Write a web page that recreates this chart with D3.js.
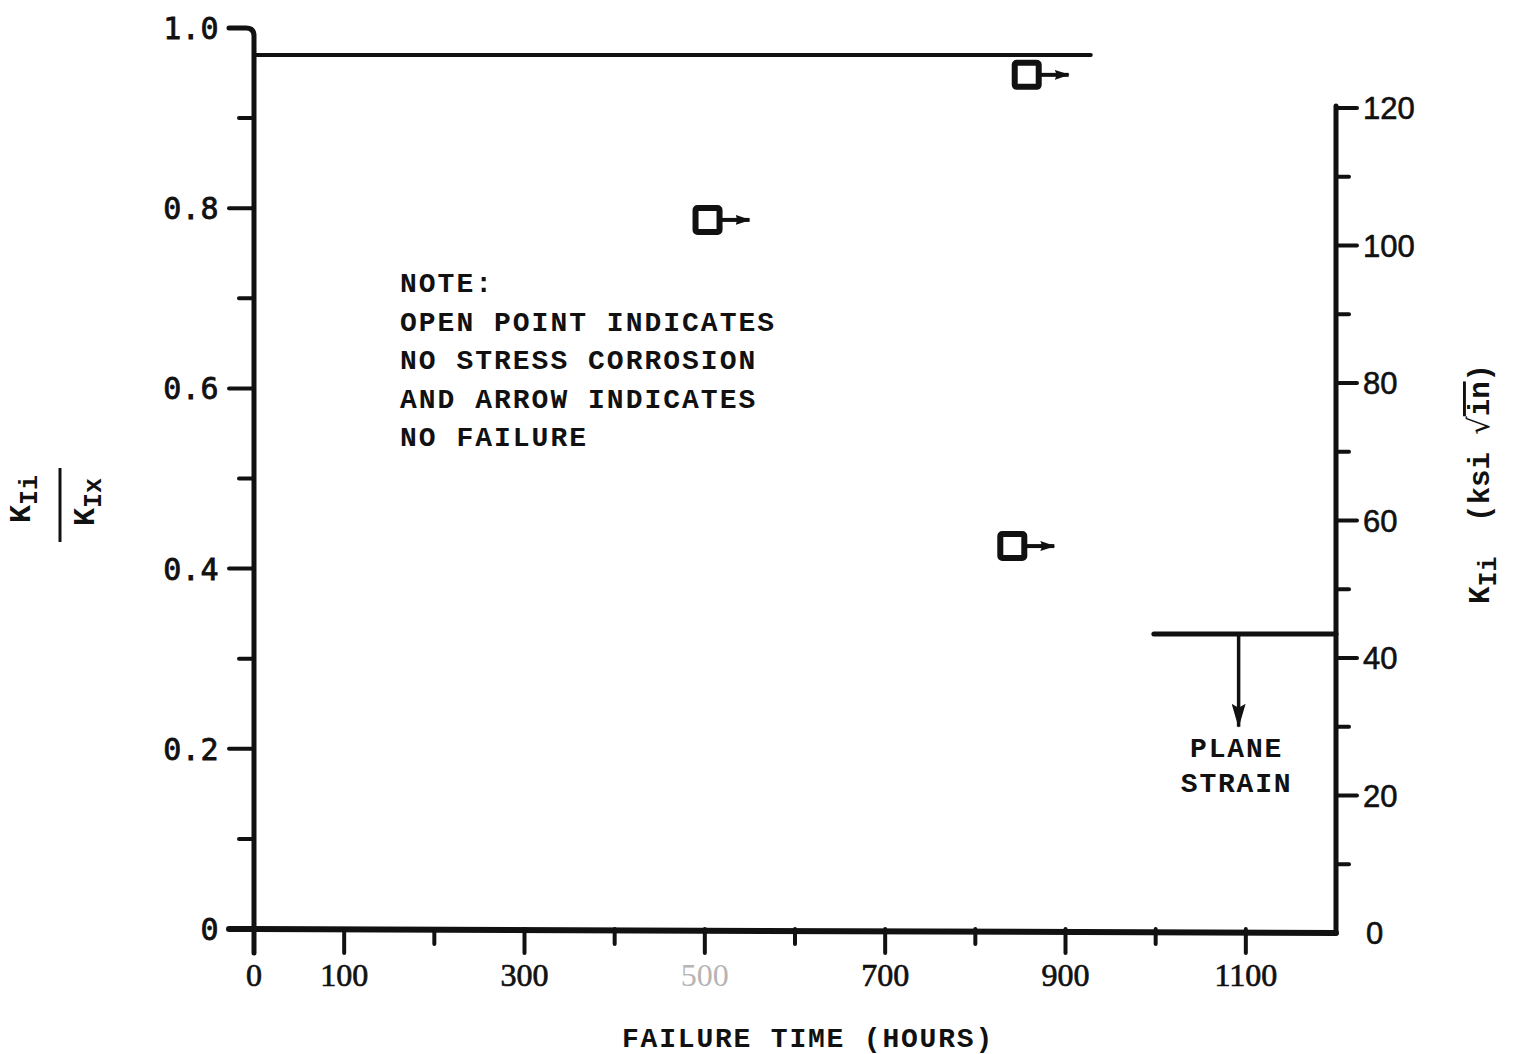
<!DOCTYPE html>
<html>
<head>
<meta charset="utf-8">
<script src="https://cdnjs.cloudflare.com/ajax/libs/d3/7.8.5/d3.min.js"></script>
<style>
  body { margin: 0; background: #fff; }
  svg { display: block; }
  .tw { font-family: "Liberation Mono", "DejaVu Sans Mono", monospace; font-weight: bold; }
</style>
</head>
<body>
<div id="chart"></div>
<script>
// hours axis
var hourTicks = [0, 100, 200, 300, 400, 500, 600, 700, 800, 900, 1000, 1100];
var hourLabels = [0, 100, 300, 500, 700, 900, 1100];
var fadedLabels = [500];

// left axis K_Ii / K_Ix
var ratioTicks = [0, 0.1, 0.2, 0.3, 0.4, 0.5, 0.6, 0.7, 0.8, 0.9, 1.0];
var ratioLabels = [0, 0.2, 0.4, 0.6, 0.8, 1.0];

// right axis K_Ii (ksi sqrt in)
var kTicks = [0, 10, 20, 30, 40, 50, 60, 70, 80, 90, 100, 110, 120];
var kLabels = [0, 20, 40, 60, 80, 100, 120];

// open points (no stress corrosion, no failure)
var pointHours = [857, 503, 841];
var pointRatio = [0.948, 0.787, 0.425];

// K_Ix level line
var kixRatio = 0.97;
var kixEndHours = 928;

// plane strain limit
var planeStrainK = 43.5;
var planeStrainFromHours = 998;
var planeStrainArrowHours = 1092;
var planeStrainArrowToK = 30;

var noteLines = ["NOTE:", "OPEN POINT INDICATES", "NO STRESS CORROSION", "AND ARROW INDICATES", "NO FAILURE"];

var W = 1523, H = 1054;
var ink = "#111";

var svg = d3.select("#chart").append("svg")
    .attr("width", W)
    .attr("height", H);

var x = d3.scaleLinear().domain([0, 1200]).range([254, 1336]);
var yL = d3.scaleLinear().domain([0, 1]).range([929, 28]);
var yR = d3.scaleLinear().domain([0, 120]).range([933, 108]);

var defs = svg.append("defs");
// small head for the "no failure" arrows, long one for plane strain
defs.append("marker")
    .attr("id", "head")
    .attr("viewBox", "0 0 15 12")
    .attr("preserveAspectRatio", "none")
    .attr("refX", 14).attr("refY", 6)
    .attr("markerWidth", 15).attr("markerHeight", 12)
    .attr("markerUnits", "userSpaceOnUse")
    .attr("orient", "auto")
    .append("path")
    .attr("d", "M0,1 L15,6 L0,11 L2,6 Z")
    .attr("fill", ink);
defs.append("marker")
    .attr("id", "headLong")
    .attr("viewBox", "0 0 24 14")
    .attr("preserveAspectRatio", "none")
    .attr("refX", 23).attr("refY", 7)
    .attr("markerWidth", 24).attr("markerHeight", 14)
    .attr("markerUnits", "userSpaceOnUse")
    .attr("orient", "auto")
    .append("path")
    .attr("d", "M0,0 L24,7 L0,14 L4,7 Z")
    .attr("fill", ink);

var axisX = x(0);

// left axis with rounded top corner (1.0 tick)
svg.append("path")
    .attr("d", "M" + (axisX - 25) + "," + yL(1) + " L" + (axisX - 8) + "," + yL(1) +
        " Q" + axisX + "," + yL(1) + " " + axisX + "," + (yL(1) + 8) +
        " L" + axisX + "," + (yL(0) + 24))
    .attr("fill", "none")
    .attr("stroke", ink)
    .attr("stroke-width", 5)
    .attr("stroke-linecap", "round");

svg.append("g").selectAll("line")
    .data(ratioTicks.filter(d => d < 1))
    .enter().append("line")
    .attr("x1", d => axisX - (ratioLabels.some(l => Math.abs(l - d) < 1e-6) ? 25 : 15))
    .attr("x2", axisX)
    .attr("y1", d => yL(d))
    .attr("y2", d => yL(d))
    .attr("stroke", ink)
    .attr("stroke-width", 4)
    .attr("stroke-linecap", "round");

svg.append("g").selectAll("text")
    .data(ratioLabels)
    .enter().append("text")
    .attr("x", axisX - 35)
    .attr("y", d => yL(d) + 11)
    .attr("text-anchor", "end")
    .style("font-family", "'DejaVu Sans Mono', monospace")
    .style("font-size", "30px")
    .style("letter-spacing", "0.5px")
    .attr("fill", ink)
    .attr("stroke", ink)
    .attr("stroke-width", 0.8)
    .text(d => d === 0 ? "0" : d.toFixed(1));

// bottom axis
svg.append("line")
    .attr("x1", axisX - 25).attr("x2", x(1200))
    .attr("y1", yL(0)).attr("y2", yR(0))
    .attr("stroke", ink)
    .attr("stroke-width", 6)
    .attr("stroke-linecap", "round");

svg.append("g").selectAll("line")
    .data(hourTicks.filter(d => d > 0))
    .enter().append("line")
    .attr("x1", d => x(d)).attr("x2", d => x(d))
    .attr("y1", yL(0))
    .attr("y2", d => yL(0) + (hourLabels.indexOf(d) >= 0 ? 24 : 15))
    .attr("stroke", ink)
    .attr("stroke-width", 4)
    .attr("stroke-linecap", "round");

svg.append("g").selectAll("text")
    .data(hourLabels)
    .enter().append("text")
    .attr("x", d => x(d))
    .attr("y", 986)
    .attr("text-anchor", "middle")
    .style("font-family", "'Liberation Serif', serif")
    .style("font-size", "32px")
    .attr("fill", d => fadedLabels.indexOf(d) >= 0 ? "#b5b5b5" : ink)
    .attr("stroke", d => fadedLabels.indexOf(d) >= 0 ? "none" : ink)
    .attr("stroke-width", 0.7)
    .text(d => d);

svg.append("text")
    .attr("class", "tw")
    .attr("x", 808)
    .attr("y", 1047)
    .attr("text-anchor", "middle")
    .style("font-size", "28px")
    .style("letter-spacing", "1.8px")
    .attr("fill", ink)
    .text("FAILURE TIME (HOURS)");

// right axis
var rAxisX = x(1200);
svg.append("line")
    .attr("x1", rAxisX).attr("x2", rAxisX)
    .attr("y1", yR(120) - 2).attr("y2", yR(0))
    .attr("stroke", ink)
    .attr("stroke-width", 5)
    .attr("stroke-linecap", "round");

svg.append("g").selectAll("line")
    .data(kTicks.filter(d => d > 0))
    .enter().append("line")
    .attr("x1", rAxisX)
    .attr("x2", d => rAxisX + (kLabels.indexOf(d) >= 0 ? 21 : 13))
    .attr("y1", d => yR(d)).attr("y2", d => yR(d))
    .attr("stroke", ink)
    .attr("stroke-width", 4)
    .attr("stroke-linecap", "round");

svg.append("g").selectAll("text")
    .data(kLabels)
    .enter().append("text")
    .attr("x", d => d === 0 ? rAxisX + 30 : rAxisX + 27)
    .attr("y", d => yR(d) + 11)
    .style("font-family", "'Liberation Sans', sans-serif")
    .style("font-size", "31px")
    .attr("fill", ink)
    .attr("stroke", ink)
    .attr("stroke-width", 0.6)
    .text(d => d);

// K_Ix level line
svg.append("line")
    .attr("x1", axisX).attr("x2", x(kixEndHours))
    .attr("y1", yL(kixRatio)).attr("y2", yL(kixRatio))
    .attr("stroke", ink)
    .attr("stroke-width", 4)
    .attr("stroke-linecap", "round");

// open points with arrows
var pts = pointHours.map((h, i) => ({ h: h, r: pointRatio[i] }));
var half = 12;
svg.append("g").selectAll("line")
    .data(pts)
    .enter().append("line")
    .attr("x1", d => x(d.h) + half)
    .attr("x2", d => x(d.h) + half + 30)
    .attr("y1", d => yL(d.r)).attr("y2", d => yL(d.r))
    .attr("stroke", ink)
    .attr("stroke-width", 4)
    .attr("marker-end", "url(#head)");

svg.append("g").selectAll("rect")
    .data(pts)
    .enter().append("rect")
    .attr("x", d => x(d.h) - half)
    .attr("y", d => yL(d.r) - half)
    .attr("width", half * 2)
    .attr("height", half * 2)
    .attr("rx", 2)
    .attr("fill", "#fff")
    .attr("stroke", ink)
    .attr("stroke-width", 6);

// plane strain
svg.append("line")
    .attr("x1", x(planeStrainFromHours)).attr("x2", rAxisX)
    .attr("y1", yR(planeStrainK)).attr("y2", yR(planeStrainK))
    .attr("stroke", ink)
    .attr("stroke-width", 5)
    .attr("stroke-linecap", "round");

svg.append("line")
    .attr("x1", x(planeStrainArrowHours)).attr("x2", x(planeStrainArrowHours))
    .attr("y1", yR(planeStrainK)).attr("y2", yR(planeStrainArrowToK))
    .attr("stroke", ink)
    .attr("stroke-width", 3.5)
    .attr("marker-end", "url(#headLong)");

svg.append("text")
    .attr("class", "tw")
    .attr("x", x(planeStrainArrowHours) - 2)
    .attr("y", 757)
    .attr("text-anchor", "middle")
    .style("font-size", "28px")
    .style("letter-spacing", "1.8px")
    .attr("fill", ink)
    .selectAll("tspan")
    .data(["PLANE", "STRAIN"])
    .enter().append("tspan")
    .attr("x", x(planeStrainArrowHours) - 2)
    .attr("dy", (d, i) => i === 0 ? 0 : 35)
    .text(d => d);

// note
svg.append("text")
    .attr("class", "tw")
    .attr("y", 292)
    .style("font-size", "28px")
    .style("letter-spacing", "2px")
    .attr("fill", ink)
    .selectAll("tspan")
    .data(noteLines)
    .enter().append("tspan")
    .attr("x", 400)
    .attr("dy", (d, i) => i === 0 ? 0 : 38.5)
    .text(d => d);

// left axis title: K_Ii / K_Ix
var lt = svg.append("g").attr("transform", "translate(60,505) rotate(-90)");
lt.append("line")
    .attr("x1", -37).attr("x2", 37)
    .attr("y1", 0).attr("y2", 0)
    .attr("stroke", ink)
    .attr("stroke-width", 3);

function kLabel(g, y, sub, cx) {
    var t = g.append("text")
        .attr("class", "tw")
        .attr("x", cx)
        .attr("y", y)
        .attr("text-anchor", "middle")
        .style("font-size", "30px")
        .attr("fill", ink);
    t.append("tspan").text("K");
    t.append("tspan")
        .attr("dy", 7)
        .style("font-size", "25px")
        .text(sub);
    return t;
}
kLabel(lt, -30, "Ii", 6);
kLabel(lt, 34, "Ix", 3);

// right axis title: K_Ii (ksi sqrt(in))
var rt = svg.append("g").attr("transform", "translate(1489,484) rotate(-90)");
var rtext = rt.append("text")
    .attr("class", "tw")
    .attr("x", 0)
    .attr("y", 0)
    .attr("text-anchor", "middle")
    .style("font-size", "29px")
    .style("white-space", "pre")
    .attr("fill", ink);
rtext.append("tspan").text("K");
rtext.append("tspan").attr("dy", 7).style("font-size", "25px").text("Ii");
rtext.append("tspan").attr("dy", -7).text("  (ksi ");
rtext.append("tspan").style("font-family", "'DejaVu Sans', sans-serif").style("font-weight", "normal").text("\u221A");
rtext.append("tspan").style("text-decoration", "overline").text("in");
rtext.append("tspan").text(")");
</script>
</body>
</html>
